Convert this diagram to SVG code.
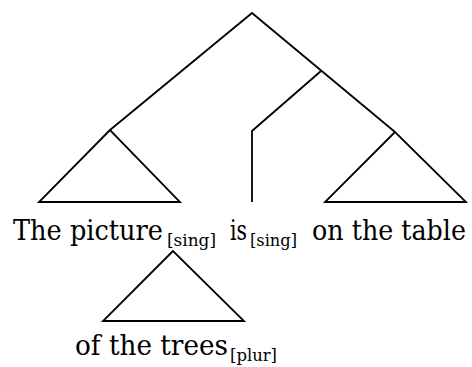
<svg xmlns="http://www.w3.org/2000/svg" width="472" height="367" viewBox="0 0 472 367">
<style>
.ln{fill:none;stroke:#000;stroke-width:1.8;stroke-linejoin:miter}
.w{font-family:"DejaVu Serif","Liberation Serif",serif;font-size:28px;fill:#000}
.s{font-family:"DejaVu Serif","Liberation Serif",serif;font-size:17px;fill:#000}
</style>
<rect width="472" height="367" fill="#fff"/>
<g id="connectors">
<polyline class="ln" points="110,130 252,13 395,132"/>
<polyline class="ln" points="321,71 252,131 252,202"/>
</g>
<g id="subject">
<polygon class="ln" points="110,130 39,202 180,202"/>
</g>
<g id="predicate">
<polygon class="ln" points="395,132 325,202 466,202"/>
</g>
<g id="pp">
<polygon class="ln" points="173,251 103,321 244,321"/>
</g>
<g id="labels">
<text class="w" x="13" y="240" textLength="150" lengthAdjust="spacingAndGlyphs">The picture</text>
<text class="s" x="167" y="246" textLength="49" lengthAdjust="spacingAndGlyphs">[sing]</text>
<text class="w" x="230" y="240" textLength="17" lengthAdjust="spacingAndGlyphs">is</text>
<text class="s" x="250" y="246" textLength="47" lengthAdjust="spacingAndGlyphs">[sing]</text>
<text class="w" x="312" y="240" textLength="154" lengthAdjust="spacingAndGlyphs">on the table</text>
<text class="w" x="75" y="355" textLength="153" lengthAdjust="spacingAndGlyphs">of the trees</text>
<text class="s" x="230" y="361" textLength="47" lengthAdjust="spacingAndGlyphs">[plur]</text>
</g>
</svg>
